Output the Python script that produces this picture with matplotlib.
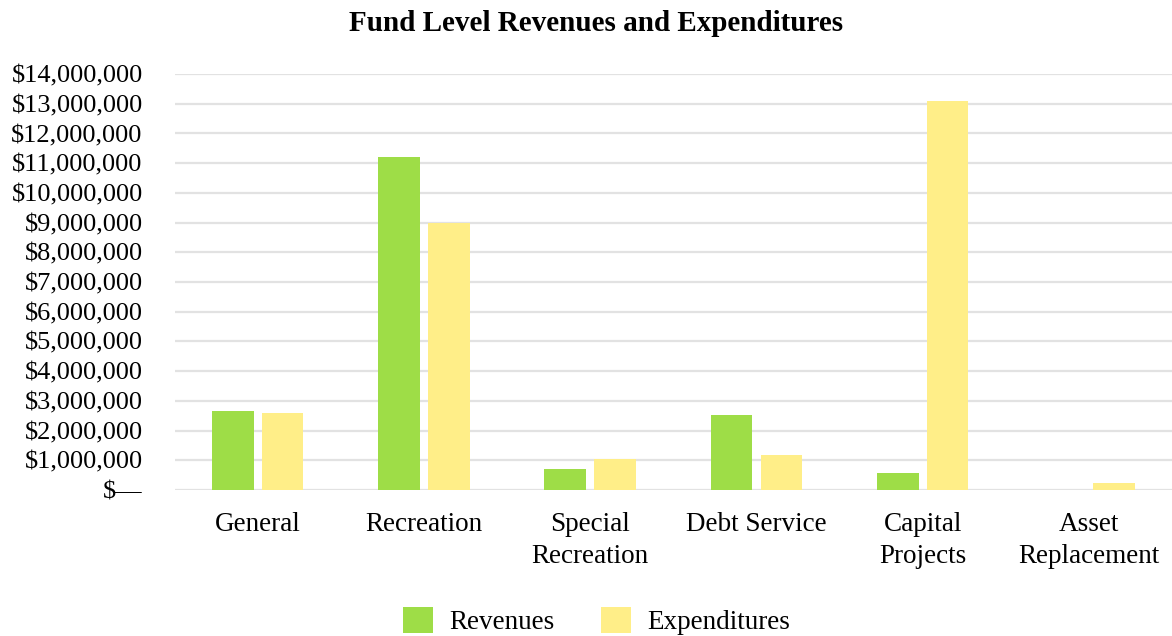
import numpy as np
import matplotlib.pyplot as plt
from matplotlib.ticker import FuncFormatter

plt.rcParams['font.family'] = ['Liberation Serif', 'DejaVu Serif']

# fund categories and values (dollars)
funds = ['General', 'Recreation', 'Special\nRecreation', 'Debt Service',
         'Capital\nProjects', 'Asset\nReplacement']
revenues = [2660000, 11210000, 710000, 2520000, 570000, 0]
expenditures = [2590000, 8990000, 1030000, 1180000, 13100000, 240000]

green = '#9edd47'
yellow = '#ffee88'


def money(v, pos):
    if v == 0:
        return '$\u2014'
    return '${:,.0f}'.format(v)


fig = plt.figure(figsize=(11.72, 6.36), dpi=100)
ax = fig.add_axes([0.149, 0.2296, 0.851, 0.654])

x = np.arange(len(funds))
w = 0.25
ax.bar(x - 0.15, revenues, w, color=green, label='Revenues', zorder=3)
ax.bar(x + 0.15, expenditures, w, color=yellow, label='Expenditures', zorder=3)

ax.set_xlim(-0.5, len(funds) - 0.5)
ax.set_ylim(0, 14000000)
ax.set_yticks(np.arange(0, 14000001, 1000000))
ax.yaxis.set_major_formatter(FuncFormatter(money))
ax.yaxis.grid(True, color='#e2e2e2', linewidth=1.6, zorder=0)
ax.set_xticks(x)
ax.set_xticklabels(funds, va='top', linespacing=1.35)
ax.tick_params(axis='y', length=0, pad=23, labelsize=19)
ax.tick_params(axis='x', length=0, pad=16, labelsize=19.5)
for s in ax.spines.values():
    s.set_visible(False)

fig.suptitle('Fund Level Revenues and Expenditures', fontsize=21,
             fontweight='bold', x=0.509, y=0.985, va='top')
fig.legend(loc='lower center', ncol=2, frameon=False, fontsize=19.5,
           bbox_to_anchor=(0.509, -0.037), handlelength=1.1, handleheight=1.1,
           columnspacing=1.7, handletextpad=0.6)

fig.savefig('out.png', dpi=100)
